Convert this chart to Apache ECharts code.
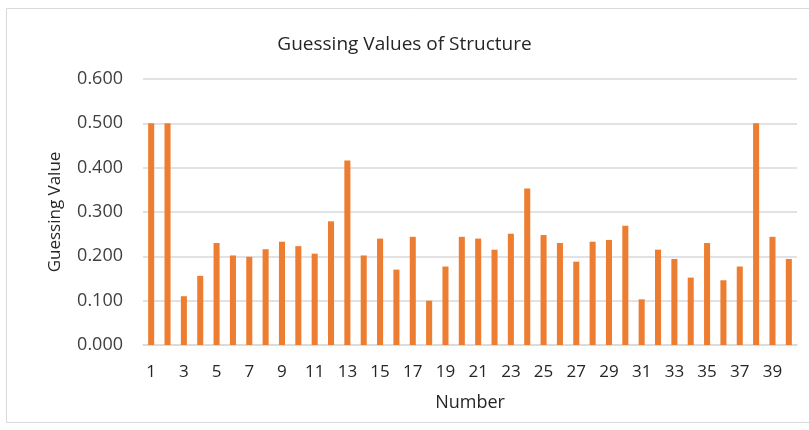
<!DOCTYPE html>
<html>
<head>
<meta charset="utf-8">
<script src="https://cdn.jsdelivr.net/npm/echarts@6/dist/echarts.min.js"></script>
<style>
  html, body { margin: 0; padding: 0; background: #fff; }
  #main { width: 809px; height: 430px; }
</style>
</head>
<body>
<div id="main"></div>
<script>
// 数据
var numbers = [];
for (var i = 1; i <= 40; i++) numbers.push(String(i));
var guessValues = [
  0.500, 0.500, 0.110, 0.156, 0.230, 0.202, 0.199, 0.216, 0.233, 0.223,
  0.206, 0.279, 0.416, 0.202, 0.240, 0.170, 0.244, 0.100, 0.177, 0.244,
  0.240, 0.215, 0.251, 0.353, 0.248, 0.230, 0.188, 0.233, 0.237, 0.269,
  0.103, 0.215, 0.194, 0.152, 0.230, 0.146, 0.177, 0.500, 0.244, 0.194
];

var chart = echarts.init(document.getElementById('main'));
var option = {
  backgroundColor: '#fff',
  textStyle: { fontFamily: 'Open Sans, sans-serif' },
  graphic: [{
    type: 'rect',
    shape: { x: 6.5, y: 8.5, width: 820, height: 414 },
    style: { fill: 'none', stroke: '#d9d9d9', lineWidth: 1 },
    silent: true
  }],
  title: {
    text: 'Guessing Values of Structure',
    left: 'center',
    top: 30,
    textStyle: { fontSize: 19, fontWeight: 'normal', color: '#262626', fontFamily: 'Open Sans, sans-serif' }
  },
  grid: { left: 143, right: 12, top: 79, bottom: 85 },
  xAxis: {
    type: 'category',
    data: numbers,
    name: 'Number',
    nameLocation: 'middle',
    nameGap: 49,
    nameTextStyle: { fontSize: 18, color: '#262626' },
    axisLine: { lineStyle: { color: '#d9d9d9', width: 1.5 } },
    axisTick: { show: false },
    axisLabel: { interval: 1, fontSize: 17, color: '#262626', margin: 19 }
  },
  yAxis: {
    type: 'value',
    min: 0,
    max: 0.6,
    interval: 0.1,
    name: 'Guessing Value',
    nameLocation: 'middle',
    nameGap: 79,
    nameTextStyle: { fontSize: 17, color: '#262626' },
    axisLine: { show: false },
    axisTick: { show: false },
    axisLabel: {
      fontSize: 18,
      color: '#404040',
      margin: 20,
      formatter: function (v) { return v.toFixed(3); }
    },
    splitLine: { lineStyle: { color: '#d9d9d9', width: 1.5 } }
  },
  series: [{
    name: 'Guessing Value',
    type: 'bar',
    data: guessValues,
    barWidth: '37%',
    itemStyle: { color: '#ED7D31' }
  }]
};
chart.setOption(option);
</script>
</body>
</html>
